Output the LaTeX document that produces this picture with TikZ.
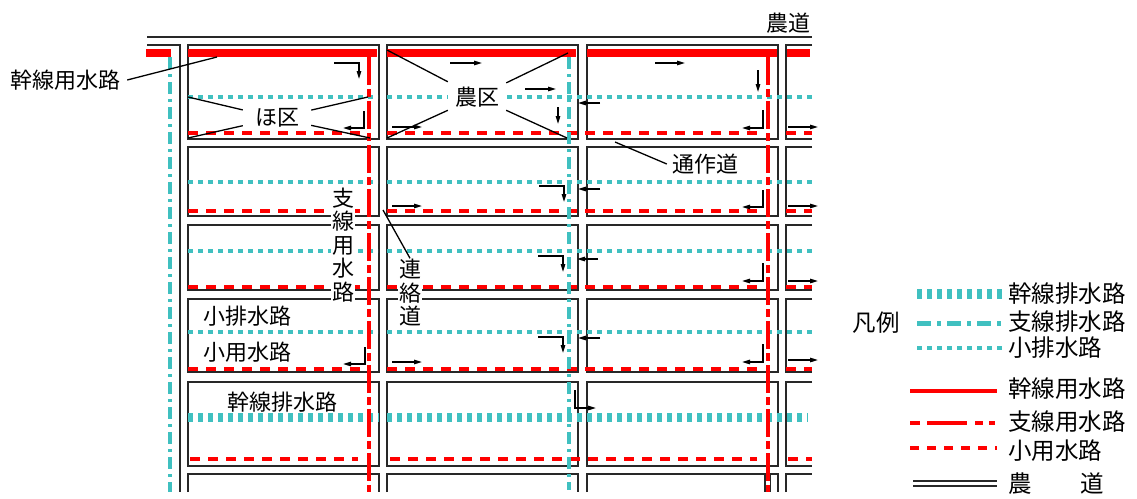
\documentclass[tikz,border=0pt]{standalone}
\usepackage{fontspec}
\newfontfamily\jp{Noto Sans CJK JP}
\usetikzlibrary{arrows.meta}
\definecolor{cy}{RGB}{64,192,192}
\definecolor{rd}{RGB}{255,0,0}
\definecolor{blk}{RGB}{40,40,40}
\begin{document}
\begin{tikzpicture}[x=1pt,y=-1pt,
  blockline/.style={draw=blk, line width=2pt},
  road/.style={draw=blk, line width=1.5pt},
  mainred/.style={draw=rd, line width=8pt},
  subred/.style={draw=rd, line width=3.2pt, dash pattern=on 28pt off 4pt on 8pt off 4pt},
  smallred/.style={draw=rd, line width=3.2pt, dash pattern=on 10pt off 8pt},
  maincy/.style={draw=cy, line width=9pt, dash pattern=on 5pt off 5pt},
  subcy/.style={draw=cy, line width=3.2pt, dash pattern=on 12pt off 5pt on 3pt off 5pt},
  smallcy/.style={draw=cy, line width=3.2pt, dash pattern=on 5pt off 5pt},
  flow/.style={draw=black, line width=1.3pt, -{Triangle[length=8pt,width=4.5pt]}},
  lead/.style={draw=black, line width=1.3pt},
  lbl/.style={font=\jp\fontsize{22}{23.5}\selectfont, inner sep=1pt},
  leg/.style={font=\jp\fontsize{23.5}{25}\selectfont, anchor=west, inner sep=0pt},
]
\useasboundingbox[fill=white] (0,0) rectangle (1137,498);

% blocks
\foreach \t/\b in {45/139,147/216,225/290,299/372,382/466}{
  \foreach \l/\r in {188/379,387/578,587/778}{
    \draw[blockline] (\l,\t) rectangle (\r,\b);
  }
  \draw[blockline] (812,\t) -- (786,\t) -- (786,\b) -- (812,\b);
}
\foreach \l/\r in {188/379,387/578,587/778}{
  \draw[blockline] (\l,492) -- (\l,474) -- (\r,474) -- (\r,492);
}
\draw[blockline] (786,492) -- (786,474) -- (812,474);

% roads
\draw[road] (147,37) -- (812,37);
\draw[road] (147,45) -- (180,45) -- (180,492);
\draw[road] (765,474) -- (765,492);
\draw[road] (770.5,474) -- (770.5,492);

% main irrigation canal
\foreach \a/\b in {146/171,188/377,387/576,587/777,787/810}
  \draw[mainred] (\a,52.5) -- (\b,52.5);

% small drains
\foreach \y in {97,182,251,332}{
  \draw[smallcy] (188,\y) -- (378,\y);
  \draw[smallcy] (387,\y) -- (812,\y);
}
% small irrigation
\foreach \y in {133,211,287,369}{
  \draw[smallred] (188,\y) -- (367,\y);
  \draw[smallred] (387,\y) -- (757,\y);
  \draw[smallred] (786,\y) -- (812,\y);
}
\draw[smallred] (190,459) -- (358,459);
\draw[smallred] (390,459) -- (757,459);
\draw[smallred] (788,459) -- (812,459);

% main drain
\draw[maincy] (188,417) -- (379,417);
\draw[maincy] (387,417) -- (808,417);

% branch lines
\draw[subred] (369,57) -- (369,492);
\draw[subred] (768,57) -- (768,492);
\draw[subcy] (569,57) -- (569,490);
\draw[subcy] (170,57) -- (170,492);

% flow arrows
\draw[flow] (334,63) -| (359,79);
\draw[flow] (364,111) |- (343,128);
\draw[flow] (450,63) -- (482,63);
\draw[flow] (525,89) -- (556,89);
\draw[flow] (558,107) -- (558,124);
\draw[flow] (392,127) -- (422,127);
\draw[flow] (600,103) -- (578,103);
\draw[flow] (655,63) -- (685,63);
\draw[flow] (758,70) -- (758,92);
\draw[flow] (763,110) |- (742,128);
\draw[flow] (788,127) -- (818,127);

\draw[flow] (539,186) -| (564,202);
\draw[flow] (392,206) -- (422,206);
\draw[flow] (600,189) -- (578,189);
\draw[flow] (763,190) |- (742,207);
\draw[flow] (788,206) -- (818,206);

\draw[flow] (538,256) -| (563,272);
\draw[flow] (598,259) -- (577,259);
\draw[flow] (763,263) |- (742,281);
\draw[flow] (788,281) -- (818,281);

\draw[flow] (365,347) |- (343,364);
\draw[flow] (392,362) -- (422,362);
\draw[flow] (538,337) -| (563,353);
\draw[flow] (600,338) -- (578,338);
\draw[flow] (763,344) |- (742,362);
\draw[flow] (788,360) -- (818,360);

\draw[flow] (575,390) |- (596,408);

% labels
\node[lbl, fill=white, inner xsep=12pt, inner ysep=1pt] (hoku) at (277,118) {ほ区};
\node[lbl, fill=white, inner sep=7pt] (noku) at (477,97) {農区};
\coordinate (h1) at (188,97);
\coordinate (h2) at (368,97);
\coordinate (h3) at (188,138);
\coordinate (h4) at (370,138);
\coordinate (n1) at (387,50);
\coordinate (n2) at (568,53);
\coordinate (n3) at (387,138);
\coordinate (n4) at (567,138);
\foreach \c in {h1,h2,h3,h4} \draw[lead] (\c) -- (hoku);
\foreach \c in {n1,n2,n3,n4} \draw[lead] (\c) -- (noku);

\node[lbl, inner xsep=7pt] (kanyo) at (65,80) {幹線用水路};
\coordinate (kanyoP) at (217,57);
\draw[lead] (kanyo.east) -- (kanyoP);

\node[lbl, inner xsep=5pt] (tsu) at (705,164) {通作道};
\coordinate (tsuP) at (615,142);
\draw[lead] (tsuP) -- (tsu.west);

\node[lbl, fill=white, align=center] (shisen) at (343,245) {支\\線\\用\\水\\路};
\node[lbl, fill=white, align=center] (renraku) at (410,293) {連\\絡\\道};
\coordinate (renP) at (383,210);
\draw[lead] (renP) -- (renraku.north);

\node[lbl] (shohai) at (247,316) {小排水路};
\node[lbl] (shoyo) at (247,352) {小用水路};
\node[lbl] (kanhai) at (282,402) {幹線排水路};
\node[lbl] (nodo) at (788,23) {農道};

% legend
\node[leg, anchor=center] (hanrei) at (876,323) {凡例};
\draw[maincy, line width=10pt] (917,294) -- (1002,294);
\draw[draw=cy, line width=5pt, dash pattern=on 14pt off 6pt on 4pt off 6pt] (917,323) -- (1002,323);
\draw[smallcy, line width=3.2pt] (917,348) -- (1002,348);
\draw[draw=rd, line width=3.2pt] (910,391) -- (997,391);
\draw[draw=rd, line width=3.2pt, dash pattern=on 10pt off 7pt on 40pt off 8pt on 8pt off 6pt on 6pt off 100pt] (910,423) -- (997,423);
\draw[smallred, dash pattern=on 9pt off 8pt] (910,448) -- (997,448);
\draw[road] (913,481) -- (997,481);
\draw[road] (913,486) -- (997,486);
\node[leg] (l1) at (1008,294) {幹線排水路};
\node[leg] (l2) at (1008,322) {支線排水路};
\node[leg] (l3) at (1008,348) {小排水路};
\node[leg] (l4) at (1008,389) {幹線用水路};
\node[leg] (l5) at (1008,422) {支線用水路};
\node[leg] (l6) at (1008,451) {小用水路};
\node[leg] (l7) at (1008,484) {農\hspace{49pt}道};
\end{tikzpicture}
\end{document}
